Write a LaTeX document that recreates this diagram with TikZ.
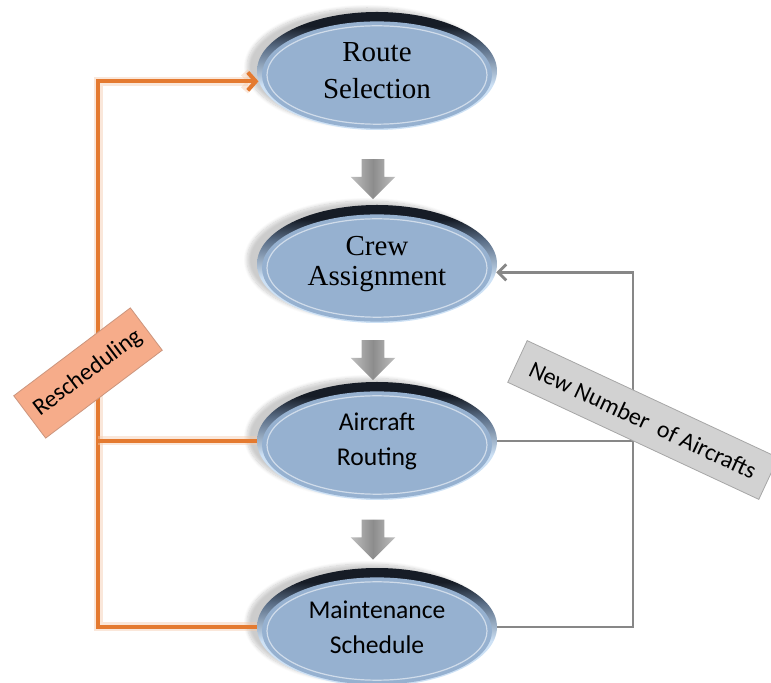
\documentclass[tikz,border=0pt]{standalone}
\usepackage{fontspec}
\newfontfamily\headfont{Liberation Serif}
\newfontfamily\bodyfont{Carlito}
\usepackage{xcolor}
\usetikzlibrary{shapes.geometric,shapes.arrows,arrows.meta,calc,shadows.blur}
\definecolor{bubblefill}{RGB}{150,177,208}
\definecolor{rimdark}{RGB}{22,28,38}
\definecolor{rimmid}{RGB}{90,110,135}
\definecolor{rimlight}{RGB}{205,225,245}
\definecolor{loopor}{RGB}{228,122,48}
\definecolor{loopgr}{RGB}{135,135,135}
\definecolor{resched}{RGB}{246,172,138}
\pgfdeclareverticalshading{bubblerim}{100bp}{color(0bp)=(rimlight); color(25bp)=(rimlight); color(44bp)=(rimlight); color(60bp)=(rimmid); color(69bp)=(rimdark); color(100bp)=(rimdark)}
\tikzset{
  bubble/.style={ellipse, minimum width=120pt, minimum height=59pt, inner sep=0pt, align=center,
    shading=bubblerim,
    blur shadow={shadow xshift=-5pt, shadow yshift=2pt, shadow opacity=20, shadow blur steps=10},
    path picture={
      \fill[bubblefill] ([yshift=-2pt]path picture bounding box.center) ellipse (57.5pt and 26.8pt);
      \draw[white!55!bubblefill, line width=.6pt] ([yshift=-2pt]path picture bounding box.center) ellipse (55pt and 24.6pt);}},
  serifbubble/.style={bubble, font=\headfont\fontsize{14.5}{18.5}\selectfont},
  sansbubble/.style={bubble, font=\bodyfont\fontsize{12.8}{17.5}\selectfont},
  downarrow/.style={single arrow, shape border rotate=270, draw=none, inner sep=5.5pt,
    single arrow head extend=5.5pt, minimum height=20pt, minimum width=1pt,
    left color=gray!50, right color=gray!50, middle color=gray!90},
  orangeline/.style={draw=loopor, line width=2pt, preaction={draw=loopor!40, line width=4.5pt, opacity=.45}},
  grayline/.style={draw=loopgr, line width=1.4pt},
  tag/.style={font=\bodyfont\fontsize{12}{14}\selectfont, inner sep=0pt}
}
\begin{document}
\begin{tikzpicture}[x=0.5pt,y=-0.5pt]
\useasboundingbox (0,0) rectangle (771,683);
\coordinate (lbus) at (98,0);
\coordinate (rbus) at (633,0);

\node[serifbubble] (rs) at (377,71) {Route\\Selection};
\node[serifbubble, font=\headfont\fontsize{14.5}{15}\selectfont] (ca) at (377,264) {Crew\\Assignment};
\node[sansbubble] (ar) at (377,441) {Aircraft\\Routing};
\node[sansbubble] (ms) at (377,627) {Maintenance\\Schedule};

\node[downarrow] (a1) at ($(rs.south)!.5!(ca.north)+(-4,6)$) {};
\node[downarrow] (a2) at ($(ca.south)!.5!(ar.north)+(-4,2)$) {};
\node[downarrow] (a3) at ($(ar.south)!.5!(ms.north)+(-4,0)$) {};

% feedback loops
\draw[orangeline, -{Straight Barb[length=4pt,width=9pt]}] (ms.west) -| (lbus |- rs.185) -- (rs.185);
\draw[orangeline] (ar.west) -- (ar.west -| lbus);
\draw[grayline, -{Straight Barb[length=4pt,width=8pt]}] (ms.east) -| (rbus |- ca.356) -- (ca.356);
\draw[grayline] (ar.east) -- (ar.east -| rbus);

\node[tag, rotate=37, fill=resched, draw=resched!80!black!90, minimum width=73pt, minimum height=26.5pt] (rl) at (88,373) {Rescheduling};
\node[tag, rotate=-25, fill=gray!35, draw=gray!70, minimum width=138.5pt, minimum height=23pt] (nl) at (643,420) {New Number~ of Aircrafts};
\end{tikzpicture}
\end{document}
